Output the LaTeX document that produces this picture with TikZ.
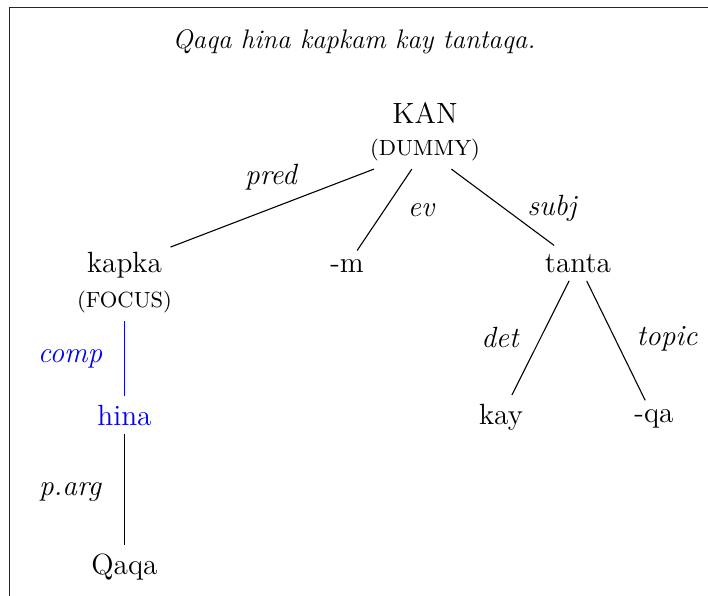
\documentclass[tikz,border=0pt]{standalone}
\usepackage{tikz}
\tikzset{
  word/.style={anchor=base, font=\fontsize{12}{14}\selectfont},
  feat/.style={anchor=base, font=\fontsize{9}{11}\selectfont},
  lab/.style={anchor=base, font=\fontsize{12}{14}\selectfont\itshape},
  edge/.style={draw=black, line width=0.45pt},
  blueedge/.style={draw=blue, line width=0.45pt},
  frame/.style={draw=black!85, line width=0.5pt}
}
\begin{document}
\begin{tikzpicture}[x=0.41pt, y=-0.41pt]
\useasboundingbox (0,0) rectangle (708,596);
\draw[frame] (9.5,596) -- (9.5,7.5) -- (708,7.5);
\node[anchor=base, font=\fontsize{11}{13}\selectfont\itshape] (title) at (354,48) {Qaqa hina kapkam kay tantaqa.};
% nodes
\node[word] (kan) at (425,123) {KAN};
\node[feat] (dummy) at (425,155) {(DUMMY)};
\node[word] (kapka) at (124.5,272) {kapka};
\node[feat] (focus) at (124.5,307) {(FOCUS)};
\node[word] (m) at (347,272) {-m};
\node[word] (tanta) at (578,272) {tanta};
\node[word, text=blue] (hina) at (124.5,425) {hina};
\node[word] (kay) at (501,424) {kay};
\node[word] (qa) at (654,422) {-qa};
\node[word] (qaqa) at (124.5,574) {Qaqa};
% edges
\draw[edge] (dummy) -- (kapka);
\draw[edge] (dummy) -- (m);
\draw[edge] (dummy) -- (tanta);
\draw[blueedge] (focus) -- (hina);
\draw[edge] (hina) -- (qaqa);
\draw[edge] (tanta) -- (kay);
\draw[edge] (tanta) -- (qa);
% labels
\node[lab] (lpred) at (271,184) {pred};
\node[lab] (lev) at (421,216) {ev};
\node[lab] (lsubj) at (552,215) {subj};
\node[lab, text=blue] (lcomp) at (70,362) {comp};
\node[lab] (lparg) at (70,495) {p.arg};
\node[lab] (ldet) at (500,347) {det};
\node[lab] (ltopic) at (667,345) {topic};
\end{tikzpicture}
\end{document}
